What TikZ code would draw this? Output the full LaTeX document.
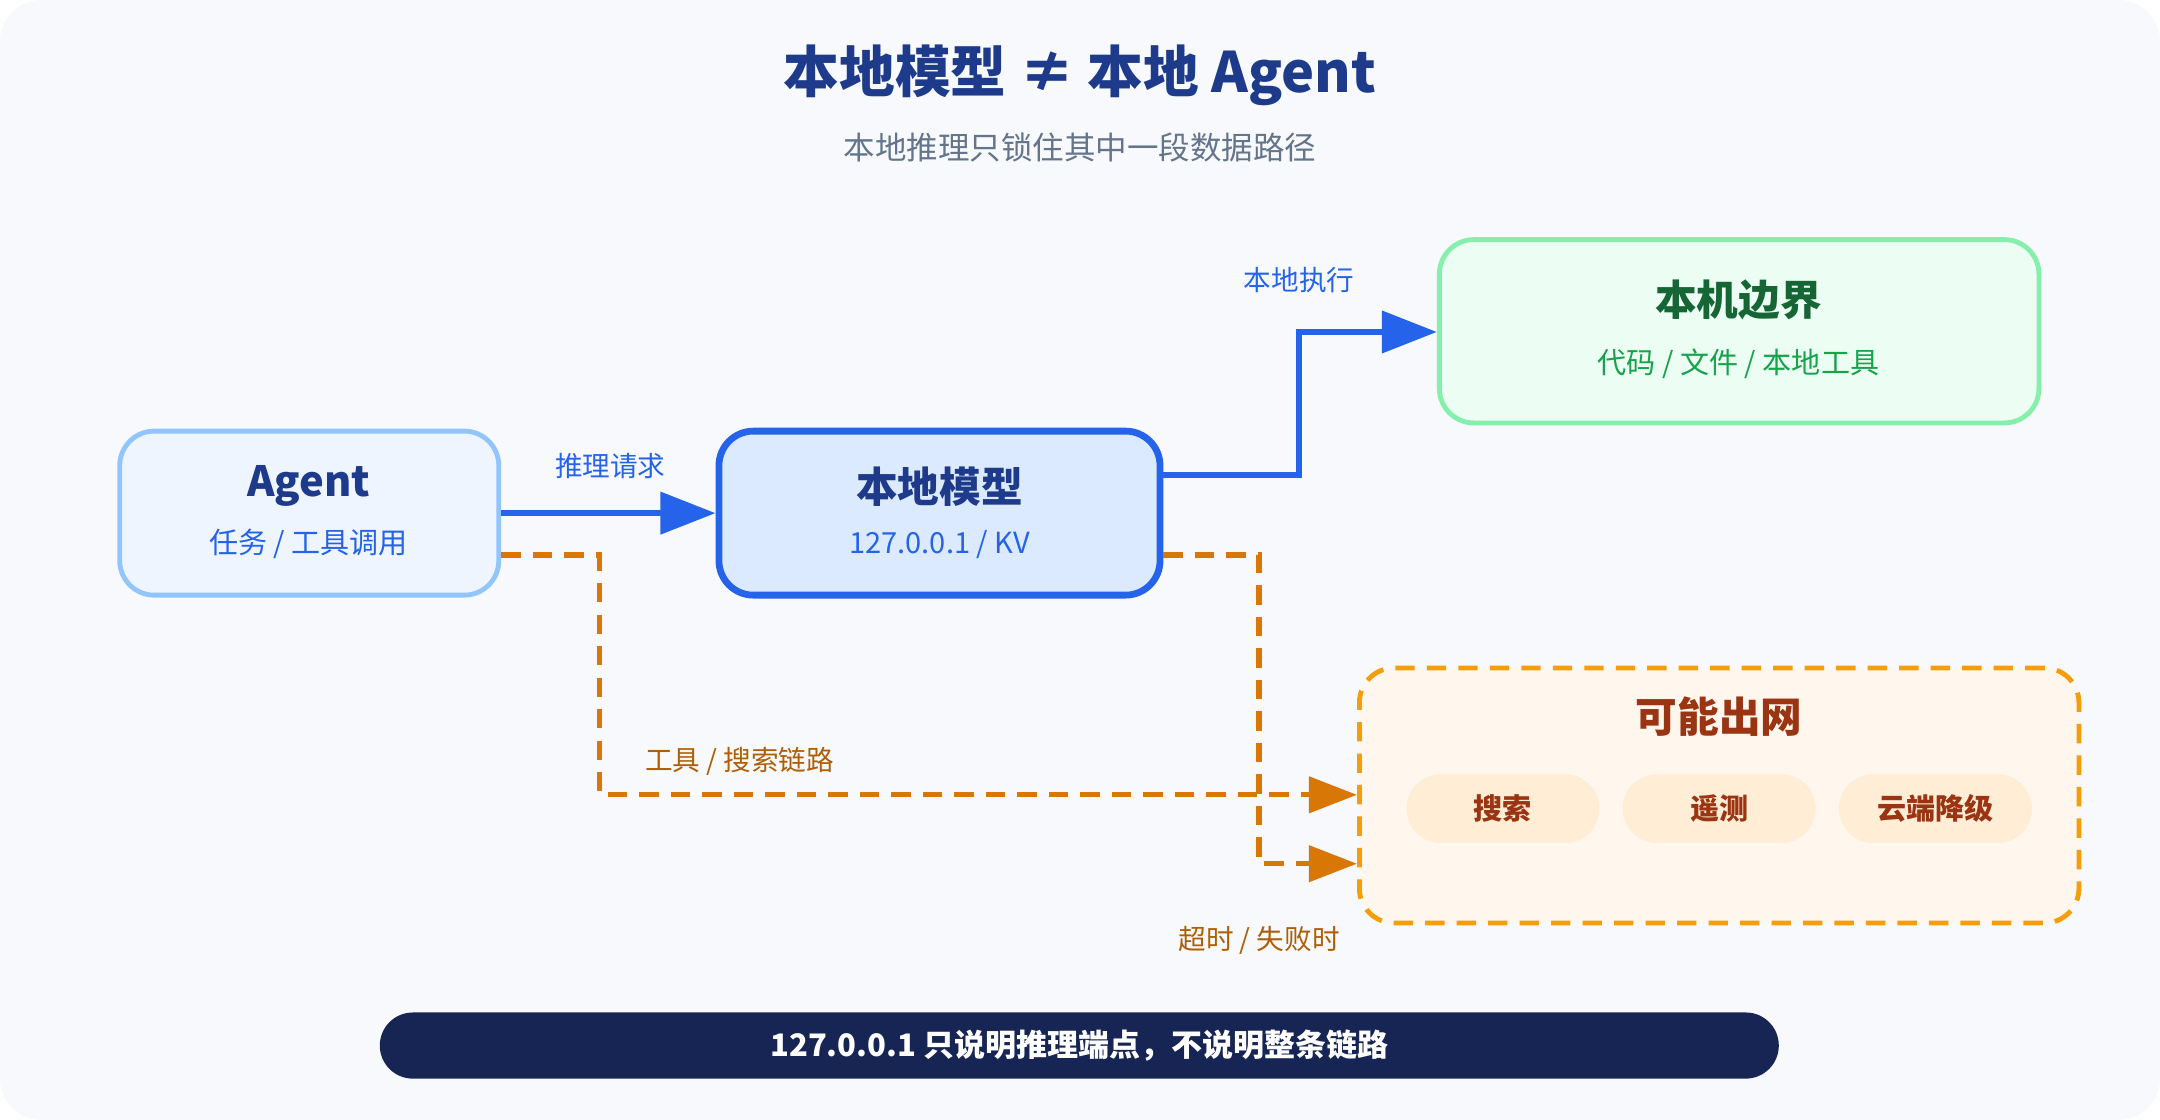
\documentclass[tikz,border=0pt]{standalone}
\usepackage{fontspec}
\setmainfont{Noto Sans CJK SC}
\usetikzlibrary{arrows.meta,positioning}
\definecolor{pagebg}{HTML}{F7F9FC}
\definecolor{navy}{HTML}{1E3A8A}
\definecolor{slate}{HTML}{64748B}
\definecolor{blueline}{HTML}{2563EB}
\definecolor{bluesoft}{HTML}{93C5FD}
\definecolor{bluefill}{HTML}{EEF5FF}
\definecolor{bluefill2}{HTML}{DBEAFE}
\definecolor{greenline}{HTML}{86EFAC}
\definecolor{greenfill}{HTML}{ECFDF3}
\definecolor{greendark}{HTML}{166534}
\definecolor{greentext}{HTML}{16A34A}
\definecolor{orangeline}{HTML}{F59E0B}
\definecolor{orangefill}{HTML}{FFF7ED}
\definecolor{orangepill}{HTML}{FFEDD5}
\definecolor{rust}{HTML}{9A3412}
\definecolor{amber}{HTML}{D97706}
\definecolor{banner}{HTML}{172554}
\tikzset{
    box/.style={rounded corners=2.5mm,line width=1pt},
    title/.style={font=\bfseries\fontsize{8.6}{10}\selectfont},
    sub/.style={font=\fontsize{6}{7}\selectfont},
    pill/.style={rounded corners=2.5mm,fill=orangepill,minimum width=1.4cm,minimum height=0.5cm,
        text=rust,font=\bfseries\fontsize{6}{7}\selectfont},
    main/.style={-{Triangle[length=4mm,width=3mm]},blueline,line width=1.3pt},
    side/.style={-{Triangle[length=3.5mm,width=2.6mm]},amber,line width=1.1pt,dash pattern=on 4pt off 2.5pt},
    elabel/.style={font=\fontsize{5.7}{7}\selectfont}
}
\begin{document}
\begin{tikzpicture}[x=0.01cm,y=-0.01cm]
    \fill[pagebg,rounded corners=3mm] (0,0) rectangle (1568,813);
    \useasboundingbox (0,0) rectangle (1568,813);

    % heading
    \node (head) at (784,55) [text=navy,font=\bfseries\fontsize{11.5}{13}\selectfont] {本地模型 ≠ 本地 Agent};
    \node (subhead) at (784,107) [text=slate,font=\fontsize{6.5}{8}\selectfont] {本地推理只锁住其中一段数据路径};

    % boxes
    \node (agent) [box,draw=bluesoft,fill=bluefill,minimum width=2.75cm,minimum height=1.19cm] at (224.5,372.5) {};
    \node at (224,353) [title,text=navy] {Agent};
    \node at (224,395) [sub,text=blueline] {任务 / 工具调用};

    \node (model) [box,draw=blueline,fill=bluefill2,line width=1.4pt,minimum width=3.2cm,minimum height=1.19cm] at (682,372.5) {};
    \node at (682,353) [title,text=navy] {本地模型};
    \node at (682,395) [sub,text=blueline] {127.0.0.1 / KV};

    \node (local) [box,draw=greenline,fill=greenfill,minimum width=4.35cm,minimum height=1.33cm] at (1262.5,240.5) {};
    \node at (1262,218) [title,text=greendark] {本机边界};
    \node at (1262,264) [sub,text=greentext] {代码 / 文件 / 本地工具};

    \node (net) [box,draw=orangeline,fill=orangefill,dash pattern=on 4pt off 2.5pt,minimum width=5.22cm,minimum height=1.85cm] at (1248,577.5) {};
    \node at (1248,520) [title,text=rust] {可能出网};
    \node (search) [pill] at (1091,587) {搜索};
    \node (telemetry) [pill] at (1248,587) {遥测};
    \node (fallback) [pill] at (1405,587) {云端降级};

    % connectors
    \draw[main] (agent.east) -- (model.west);
    \node at (443,338) [elabel,text=blueline] {推理请求};
    \draw[main] (model.east |- 0,345) -| (943,241) -- (local.west |- 0,241);
    \node at (943,203) [elabel,text=blueline] {本地执行};

    \draw[side] (agent.east |- 0,403) -| (435,577) -- (net.west |- 0,577);
    \node at (537,553) [elabel,text=amber!80!black] {工具 / 搜索链路};
    \draw[side] (model.east |- 0,403) -| (914,627) -- (net.west |- 0,627);
    \node at (914,683) [elabel,text=amber!80!black] {超时 / 失败时};

    % footer
    \node (footer) [fill=banner,rounded corners=2.4mm,minimum width=10.15cm,minimum height=0.48cm,
        text=white,font=\bfseries\fontsize{6.4}{7}\selectfont] at (783.5,759) {127.0.0.1 只说明推理端点，不说明整条链路};
\end{tikzpicture}
\end{document}
